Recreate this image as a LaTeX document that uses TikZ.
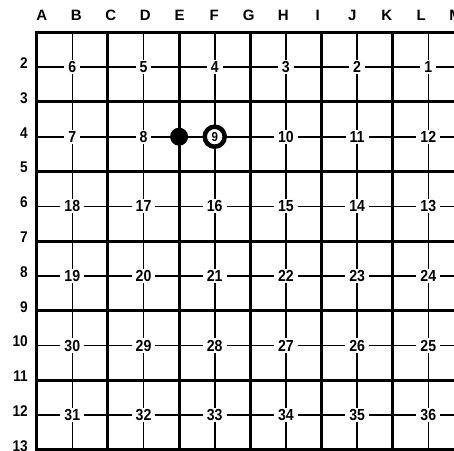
\documentclass[tikz,border=0pt]{standalone}
\usepackage{fontspec}
\setmainfont{Liberation Sans}
\newfontfamily\numfont[FakeStretch=0.88]{Liberation Sans}
\begin{document}
\begin{tikzpicture}[x=1pt,y=-1pt,
  thickline/.style={line width=3pt,line cap=rect},
  thinline/.style={line width=1.6pt},
  num/.style={fill=white,inner xsep=4pt,inner ysep=1.5pt,font=\fontsize{16}{16}\selectfont\numfont\bfseries},
  collab/.style={font=\fontsize{15}{15}\selectfont\bfseries},
  rowlab/.style={anchor=east,inner sep=0pt,font=\fontsize{15.5}{16}\selectfont\numfont\bfseries},
  blackstone/.style={circle,fill=black,minimum size=18pt,inner sep=0pt},
  whitestone/.style={circle,draw=black,line width=4.5pt,fill=white,minimum size=20pt,inner sep=0pt,font=\fontsize{13}{13}\selectfont\numfont\bfseries}]
\useasboundingbox (0,0) rectangle (454,450);
% horizontal lines
\foreach \r in {1,3,...,13} \draw[thickline] (36.7,{32.3+34.8*(\r-1)}) -- (460,{32.3+34.8*(\r-1)});
\foreach \r in {2,4,...,12} \draw[thinline] (36.7,{32.3+34.8*(\r-1)}) -- (460,{32.3+34.8*(\r-1)});
% vertical lines
\foreach \c in {0,2,...,12} \draw[thickline] ({36.7+35.6*\c},32.3) -- ({36.7+35.6*\c},460);
\foreach \c in {1,3,...,11} \draw[thinline] ({36.7+35.6*\c},32.3) -- ({36.7+35.6*\c},460);
% column labels
\foreach \l [count=\i from 0] in {A,B,C,D,E,F,G,H,I,J,K,L,M}
  \node[collab] (col\l) at ({41.7+34.5*\i},15) {\l};
% row labels
\foreach \r in {2,...,13}
  \node[rowlab] (row\r) at (28,{32.3+34.8*(\r-1)-4}) {\r};
% numbers
\foreach \k/\list in {2/{6,5,4,3,2,1},6/{18,17,16,15,14,13},8/{19,20,21,22,23,24},10/{30,29,28,27,26,25},12/{31,32,33,34,35,36}}
  \foreach \n [count=\j from 0] in \list
    \node[num] (n\n) at ({36.7+35.6*(2*\j+1)},{32.3+34.8*(\k-1)}) {\n};
\foreach \n/\j in {7/0,8/1,10/3,11/4,12/5}
  \node[num] (n\n) at ({36.7+35.6*(2*\j+1)},{32.3+34.8*3}) {\n};
% stones
\node[blackstone] (stoneE4) at ({36.7+35.6*4},{32.3+34.8*3}) {};
\node[whitestone] (n9) at ({36.7+35.6*5},{32.3+34.8*3}) {9};
\end{tikzpicture}
\end{document}
